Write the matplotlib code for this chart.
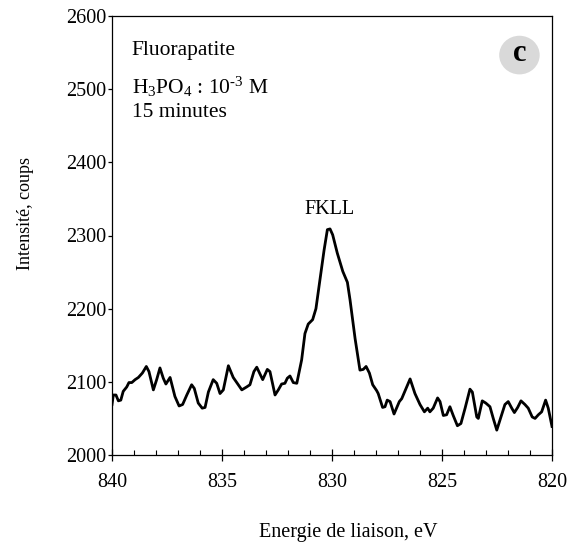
import matplotlib
matplotlib.use("Agg")
import matplotlib.pyplot as plt
import matplotlib.patches as mpatches
from matplotlib.ticker import MultipleLocator

plt.rcParams["font.family"] = ["Liberation Serif", "DejaVu Serif"]
plt.rcParams["mathtext.fontset"] = "custom"
plt.rcParams["mathtext.rm"] = "Liberation Serif"
plt.rcParams["mathtext.it"] = "Liberation Serif:italic"
plt.rcParams["mathtext.bf"] = "Liberation Serif:bold"

energie = [
    840.00, 839.94, 839.82, 839.71, 839.60, 839.49, 839.33, 839.23, 839.10, 838.95,
    838.80, 838.62, 838.44, 838.32, 838.12, 837.97, 837.82, 837.67, 837.55, 837.36,
    837.14, 836.95, 836.79, 836.60, 836.38, 836.26, 836.08, 835.90, 835.77, 835.62,
    835.40, 835.24, 835.09, 834.94, 834.71, 834.49, 834.26, 834.10, 833.88, 833.73,
    833.55, 833.42, 833.15, 832.94, 832.82, 832.59, 832.44, 832.29, 832.14, 832.03,
    831.91, 831.76, 831.60, 831.38, 831.23, 831.08, 830.88, 830.73, 830.55, 830.36,
    830.21, 830.09, 829.97, 829.76, 829.51, 829.30, 829.18, 828.95, 828.73, 828.58,
    828.45, 828.30, 828.15, 827.97, 827.90, 827.70, 827.59, 827.49, 827.36, 827.18,
    826.94, 826.83, 826.45, 826.23, 826.00, 825.80, 825.65, 825.55, 825.40, 825.20,
    825.09, 824.94, 824.79, 824.64, 824.49, 824.30, 824.14, 823.95, 823.73, 823.62,
    823.42, 823.35, 823.17, 823.01, 822.82, 822.67, 822.51, 822.32, 822.14, 821.99,
    821.83, 821.71, 821.56, 821.41, 821.23, 821.08, 820.90, 820.77, 820.62, 820.47,
    820.29, 820.17, 820.00,
]
coups = [
    2069, 2082, 2082, 2074, 2075, 2087, 2093, 2099, 2099, 2103,
    2106, 2112, 2121, 2114, 2089, 2103, 2119, 2105, 2097, 2106,
    2080, 2067, 2069, 2082, 2096, 2091, 2071, 2064, 2065, 2086,
    2103, 2098, 2084, 2089, 2122, 2106, 2096, 2089, 2093, 2096,
    2114, 2120, 2103, 2117, 2114, 2082, 2089, 2097, 2098, 2105,
    2108, 2099, 2098, 2130, 2166, 2179, 2185, 2200, 2239, 2280,
    2308, 2309, 2301, 2276, 2251, 2236, 2212, 2159, 2116, 2117,
    2121, 2112, 2096, 2088, 2084, 2065, 2066, 2075, 2073, 2056,
    2073, 2077, 2104, 2084, 2069, 2059, 2064, 2059, 2064, 2078,
    2073, 2054, 2055, 2066, 2054, 2040, 2043, 2064, 2090, 2086,
    2052, 2050, 2074, 2071, 2066, 2050, 2034, 2052, 2069, 2073,
    2064, 2058, 2065, 2074, 2069, 2064, 2052, 2050, 2055, 2059,
    2075, 2064, 2039,
]

x_ticks = [840, 835, 830, 825, 820]
y_ticks = [2000, 2100, 2200, 2300, 2400, 2500, 2600]

# ── figure ───────────────────────────────────────────────────────────────────
fig = plt.figure(figsize=(5.77, 5.49), dpi=100)
ax = fig.add_axes([112 / 577, 94 / 549, 440 / 577, 439 / 549])

ax.plot(energie, coups, color="black", linewidth=2.0, solid_joinstyle="round")

ax.set_xlim(840, 820)
ax.set_ylim(2000, 2600)
ax.set_xticks(x_ticks)
ax.set_yticks(y_ticks)
ax.xaxis.set_minor_locator(MultipleLocator(1))

for s in ax.spines.values():
    s.set_linewidth(0.9)

ax.tick_params(axis="x", which="major", direction="inout", length=8, width=0.9,
               labelsize=14.5, pad=9)
ax.tick_params(axis="x", which="minor", direction="in", length=3.5, width=0.8)
ax.tick_params(axis="y", which="major", direction="out", length=3, width=0.9,
               labelsize=14.5, pad=1)

# ── textes ───────────────────────────────────────────────────────────────────
ax.text(0.045, 0.922, "Fluorapatite", transform=ax.transAxes,
        ha="left", va="center", fontsize=15.5)
ax.text(0.045, 0.838, r"H$_3$PO$_4$ : 10$^{\text{-3}}$ M", transform=ax.transAxes,
        ha="left", va="center", fontsize=15.5)
ax.text(0.045, 0.781, "15 minutes", transform=ax.transAxes,
        ha="left", va="center", fontsize=15.5)

ax.add_patch(mpatches.Ellipse((0.926, 0.911), 0.092, 0.088, transform=ax.transAxes,
                              facecolor="#d9d9d9", edgecolor="none"))
ax.text(0.926, 0.914, "c", transform=ax.transAxes, ha="center", va="center",
        fontsize=22, fontweight="bold")

ax.text(830.1, 2336, "FKLL", ha="center", va="center", fontsize=14.5)

fig.text(25 / 577, 1 - 213 / 549, "Intensité, coups", rotation=90,
         ha="center", va="center", fontsize=13)
fig.text(348 / 577, 1 - 532 / 549, "Energie de liaison, eV",
         ha="center", va="center", fontsize=14.5)

fig.savefig("out.png", dpi=100, facecolor="white")
